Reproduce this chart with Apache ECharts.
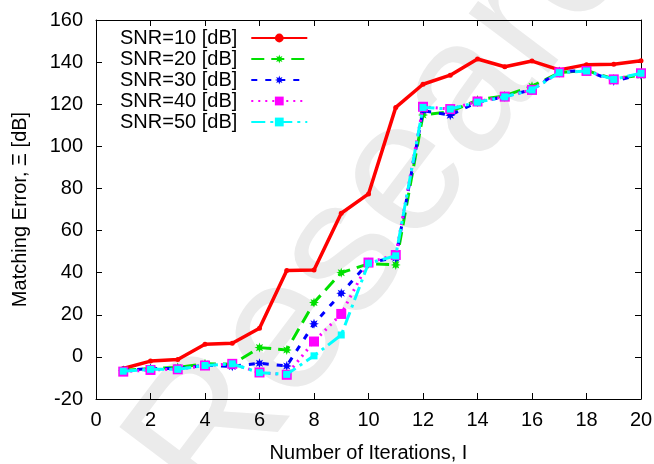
<!DOCTYPE html>
<html><head><meta charset="utf-8">
<script src="https://cdn.jsdelivr.net/npm/echarts@6/dist/echarts.min.js"></script>
<style>html,body{margin:0;padding:0;background:#fff}#c{width:654px;height:464px}</style>
</head><body><div id="c"></div>
<script>
const iterations = [1,2,3,4,5,6,7,8,9,10,11,12,13,14,15,16,17,18,19,20];
const seriesNames = ['SNR=10 [dB]','SNR=20 [dB]','SNR=30 [dB]','SNR=40 [dB]','SNR=50 [dB]'];
const snr10 = [-5.5,-2,-1.2,6,6.5,13.6,41,41.3,68.2,77.4,118.5,129.5,133.8,141.5,137.8,140.5,136.3,138.8,139,140.6];
const snr20 = [-6.5,-5.5,-5,-3.3,-3.5,4.4,3.3,25.8,40,44.2,43.7,114.9,116.5,122,124,128.5,135,136,132,133.8];
const snr30 = [-6.5,-5.5,-5.5,-4,-4.5,-3,-4.3,15.7,30.2,44.8,47,117,114.8,121,123.5,127,135.5,136,131,134];
const snr40 = [-7,-6.2,-5.9,-4.1,-3.3,-7.4,-8.5,7.3,20.4,44.8,48.4,118.8,117.7,121.3,123.6,126.8,135.1,135.8,131.8,134.7];
const snr50 = [-6.8,-5.9,-5.9,-4.1,-3.3,-7.5,-8.3,0.5,10.4,44.5,48,118.5,117.7,121,123.5,126.8,135,135.8,131.8,134.7];
const xTicks = {min:0, max:20, interval:2};
const yTicks = {min:-20, max:160, interval:20};

function starPath(n, ro, ri){
  let p = [];
  for(let i=0;i<2*n;i++){
    const r = i%2===0?ro:ri;
    const a = Math.PI*i/n - Math.PI/2;
    p.push((i===0?'M':'L')+(r*Math.cos(a)).toFixed(2)+','+(r*Math.sin(a)).toFixed(2));
  }
  return 'path://'+p.join(' ')+'Z';
}
const star = starPath(8,10,5);
const font = 'Liberation Sans';
const pair = arr => iterations.map((x,i)=>[x,arr[i]]);

const styles = [
  {color:'#ff0000', type:'solid', symbol:'circle', size:5, width:3.5},
  {color:'#00e000', type:[13,7], symbol:star, size:10, width:3},
  {color:'#0000ff', type:[6,8], symbol:star, size:10, width:3},
  {color:'#ff00ff', type:[2,5], symbol:'rect', size:10, width:3},
  {color:'#00ffff', type:[14,5,3,5], symbol:'rect', size:7, width:3}
];
const datas = [snr10, snr20, snr30, snr40, snr50];

const chart = echarts.init(document.getElementById('c'), null, {renderer:'canvas'});
chart.setOption({
  animation:false,
  backgroundColor:'#fff',
  graphic:[{
    type:'text', z:-10, silent:true,
    x:172, y:486, rotation:0.925,
    style:{text:'Research', fill:'#ebebeb', font:'188px "Liberation Sans"', textAlign:'left', textVerticalAlign:'middle', textBaseline:'middle'}
  }],
  grid:{left:96, right:13, top:20, bottom:65, outerBoundsMode:'none', containLabel:false},
  legend:{
    orient:'vertical', left:115, top:23, align:'right',
    itemWidth:56, itemHeight:11, itemGap:1,
    textStyle:{fontFamily:font, fontSize:20, color:'#000', padding:[0,9,0,0]},
    data:seriesNames
  },
  xAxis:[
    {type:'value', min:xTicks.min, max:xTicks.max, interval:xTicks.interval,
     name:'Number of Iterations, I', nameLocation:'middle', nameGap:44,
     nameTextStyle:{fontFamily:font, fontSize:20, color:'#000'},
     axisLine:{onZero:false, lineStyle:{color:'#000', width:1}},
     axisTick:{inside:true, length:6, lineStyle:{color:'#000'}},
     axisLabel:{fontFamily:font, fontSize:20, color:'#000', margin:11},
     splitLine:{show:false}},
    {type:'value', position:'top', min:xTicks.min, max:xTicks.max, interval:xTicks.interval,
     axisLine:{onZero:false, lineStyle:{color:'#000', width:1}},
     axisTick:{inside:true, length:6, lineStyle:{color:'#000'}},
     axisLabel:{show:false}, splitLine:{show:false}}
  ],
  yAxis:[
    {type:'value', min:yTicks.min, max:yTicks.max, interval:yTicks.interval,
     name:'Matching Error, Ξ [dB]', nameLocation:'middle', nameGap:66,
     nameTextStyle:{fontFamily:font, fontSize:20, color:'#000'},
     axisLine:{onZero:false, lineStyle:{color:'#000', width:1}},
     axisTick:{inside:true, length:6, lineStyle:{color:'#000'}},
     axisLabel:{fontFamily:font, fontSize:20, color:'#000', margin:13},
     splitLine:{show:false}},
    {type:'value', position:'right', min:yTicks.min, max:yTicks.max, interval:yTicks.interval,
     axisLine:{onZero:false, lineStyle:{color:'#000', width:1}},
     axisTick:{inside:true, length:6, lineStyle:{color:'#000'}},
     axisLabel:{show:false}, splitLine:{show:false}}
  ],
  series: datas.map((d,i)=>({
    name:seriesNames[i], type:'line', xAxisIndex:0, yAxisIndex:0,
    data:pair(d), symbol:styles[i].symbol, symbolSize:styles[i].size, showSymbol:true,
    lineStyle:{color:styles[i].color, type:styles[i].type, width:styles[i].width},
    itemStyle:{color:styles[i].color},
    z:2+i
  }))
});
</script></body></html>
